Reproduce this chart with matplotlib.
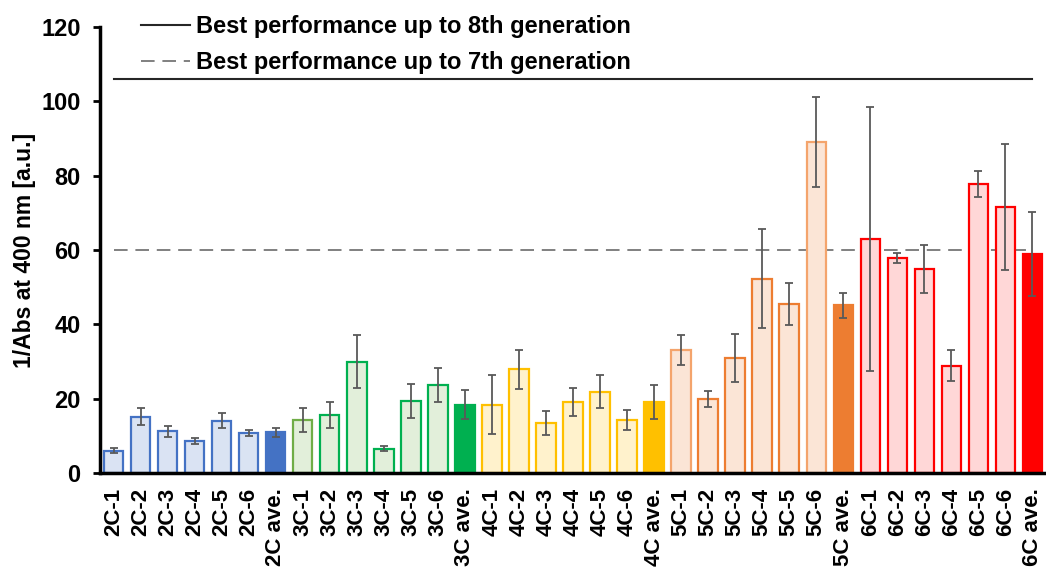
import numpy as np
import matplotlib.pyplot as plt

plt.rcParams['font.family'] = ['Liberation Sans', 'DejaVu Sans']
plt.rcParams['font.weight'] = 'bold'

# données
etiquettes = ["2C-1", "2C-2", "2C-3", "2C-4", "2C-5", "2C-6", "2C ave.",
              "3C-1", "3C-2", "3C-3", "3C-4", "3C-5", "3C-6", "3C ave.",
              "4C-1", "4C-2", "4C-3", "4C-4", "4C-5", "4C-6", "4C ave.",
              "5C-1", "5C-2", "5C-3", "5C-4", "5C-5", "5C-6", "5C ave.",
              "6C-1", "6C-2", "6C-3", "6C-4", "6C-5", "6C-6", "6C ave."]

valeurs = [6.0, 15.1, 11.2, 8.7, 14.1, 10.7, 11.0,
           14.3, 15.6, 30.0, 6.5, 19.4, 23.7, 18.3,
           18.4, 27.9, 13.5, 19.1, 21.9, 14.3, 19.2,
           33.1, 19.9, 31.0, 52.3, 45.5, 89.0, 45.1,
           63.0, 57.9, 54.9, 28.9, 77.7, 71.5, 59.0]

erreurs = [0.6, 2.3, 1.4, 0.8, 2.1, 0.8, 1.2,
           3.2, 3.4, 7.0, 0.7, 4.5, 4.6, 3.9,
           8.0, 5.2, 3.3, 3.8, 4.4, 2.6, 4.6,
           4.0, 2.2, 6.5, 13.4, 5.7, 12.1, 3.3,
           35.6, 1.4, 6.4, 4.2, 3.5, 17.0, 11.3]

best_8e = 106   # meilleure performance jusqu'à la 8e génération
best_7e = 60    # meilleure performance jusqu'à la 7e génération

# couleurs de remplissage et de contour par génération
remplissage = (['#DAE3F3'] * 6 + ['#4472C4'] +
               ['#E2EFDA'] * 6 + ['#00B050'] +
               ['#FFF2CC'] * 6 + ['#FFC000'] +
               ['#FBE5D6'] * 6 + ['#ED7D31'] +
               ['#FFD7D7'] * 6 + ['#FF0000'])
contour = (['#4472C4'] * 7 +
           ['#70AD47'] + ['#00B050'] * 6 +
           ['#FFC000'] * 7 +
           ['#F4A46C', '#ED7D31', '#ED7D31', '#ED7D31', '#ED7D31', '#F4A46C', '#ED7D31'] +
           ['#FF0000'] * 7)

x = np.arange(len(etiquettes))

fig = plt.figure(figsize=(10.46, 5.71), dpi=100)
ax = fig.add_axes([100 / 1046, 1 - 473 / 571, 946 / 1046, 446 / 571])

ax.bar(x, valeurs, width=0.72, color=remplissage, edgecolor=contour, linewidth=1.6, zorder=2)
ax.errorbar(x, valeurs, yerr=erreurs, fmt='none', ecolor='#595959',
            elinewidth=1.3, capsize=3.2, capthick=1.3, zorder=3)

# lignes de référence
ax.plot([x[0], x[-1]], [best_8e, best_8e], color='#262626', linewidth=1.5,
        label="Best performance up to 8th generation", zorder=1)
ax.plot([x[0], x[-1]], [best_7e, best_7e], color='#808080', linewidth=1.4,
        linestyle=(0, (7, 4)), label="Best performance up to 7th generation", zorder=1)

ax.set_xlim(-0.5, len(etiquettes) - 0.5)
ax.set_ylim(0, 120)
ax.set_yticks(range(0, 121, 20))
ax.set_xticks(x)
ax.set_xticklabels(etiquettes, rotation=90, fontsize=16, fontweight='bold')
ax.tick_params(axis='x', length=0, pad=11)
ax.tick_params(axis='y', length=5, width=2, pad=9, labelsize=17)
for lab in ax.get_yticklabels():
    lab.set_fontweight('bold')

ax.set_ylabel("1/Abs at 400 nm [a.u.]", fontsize=16.5, fontweight='bold', labelpad=3.5)

for cote in ['top', 'right']:
    ax.spines[cote].set_visible(False)
ax.spines['left'].set_linewidth(2.5)
ax.spines['bottom'].set_linewidth(2.5)

ax.legend(loc='upper left', bbox_to_anchor=(0.043, 1.026), frameon=False,
          prop={'size': 17, 'weight': 'bold'}, handlelength=2.1,
          handletextpad=0.25, labelspacing=0.55, borderpad=0, borderaxespad=0)

plt.savefig("out.png", dpi=100)
